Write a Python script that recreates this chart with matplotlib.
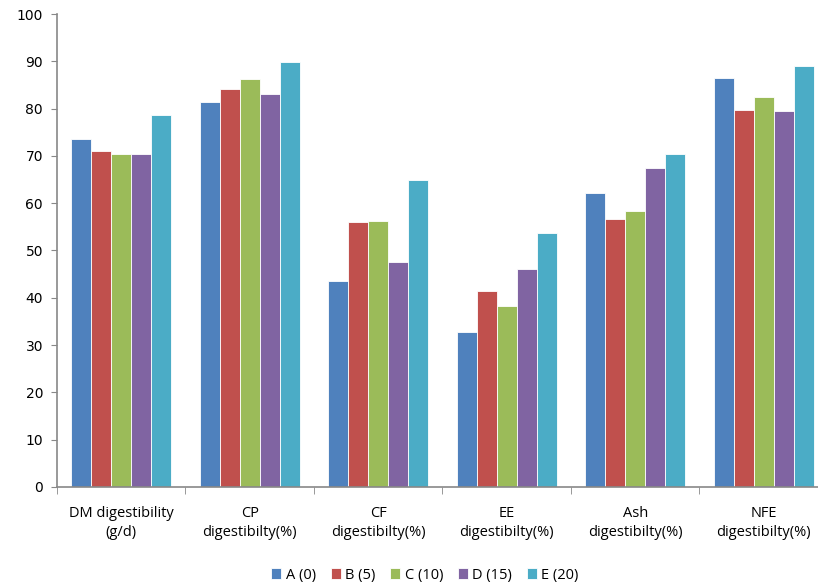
import numpy as np
import matplotlib.pyplot as plt

categories = ["DM digestibility\n(g/d)", "CP\ndigestibilty(%)", "CF\ndigestibilty(%)",
              "EE\ndigestibilty(%)", "Ash\ndigestibilty(%)", "NFE\ndigestibilty(%)"]
series_names = ["A (0)", "B (5)", "C (10)", "D (15)", "E (20)"]
a_vals = [73.5, 81.3, 43.6, 32.8, 62.2, 86.5]
b_vals = [71.1, 84.2, 56.0, 41.4, 56.7, 79.8]
c_vals = [70.5, 86.3, 56.2, 38.3, 58.3, 82.4]
d_vals = [70.3, 83.1, 47.6, 46.1, 67.4, 79.5]
e_vals = [78.7, 89.9, 64.8, 53.6, 70.3, 89.1]
colors = ["#4F81BD", "#C0504D", "#9BBB59", "#8064A2", "#4BACC6"]

W, H = 818, 585
fig = plt.figure(figsize=(W / 100, H / 100), dpi=100)
# axes runs slightly past the right edge like the original
ax = fig.add_axes([57 / W, 1 - 487 / H, (828 - 57) / W, (487 - 14) / H])

x = np.arange(len(categories))
bw = 0.156
for i, vals in enumerate([a_vals, b_vals, c_vals, d_vals, e_vals]):
    ax.bar(x + (i - 2) * bw, vals, bw, color=colors[i], label=series_names[i],
           edgecolor="white", linewidth=0.6)

ax.set_xlim(-0.5, len(categories) - 0.5)
ax.set_ylim(0, 100)
ax.set_yticks(range(0, 101, 10))
ax.tick_params(axis="y", direction="out", length=4, color="#888888", labelsize=10, pad=6)
for lab in ax.get_yticklabels():
    lab.set_family("DejaVu Sans")

ax.set_xticks(x)
ax.set_xticklabels(categories, fontsize=10.5, family="Open Sans", linespacing=1.35)
ax.set_xticks(np.arange(-0.5, len(categories), 1), minor=True)
ax.tick_params(axis="x", which="major", length=0, pad=14)
ax.tick_params(axis="x", which="minor", direction="out", length=5, color="#888888")

for s in ["top", "right"]:
    ax.spines[s].set_visible(False)
for s in ["left", "bottom"]:
    ax.spines[s].set_color("#888888")
    ax.spines[s].set_linewidth(1.2)

fig.legend(loc="center", bbox_to_anchor=(425 / W, 1 - 575 / H), ncol=5, frameon=False,
           handlelength=0.7, handleheight=0.7, handletextpad=0.3, columnspacing=1.0,
           prop={"family": "Open Sans", "size": 10.5})

fig.savefig("out.png", dpi=100)
